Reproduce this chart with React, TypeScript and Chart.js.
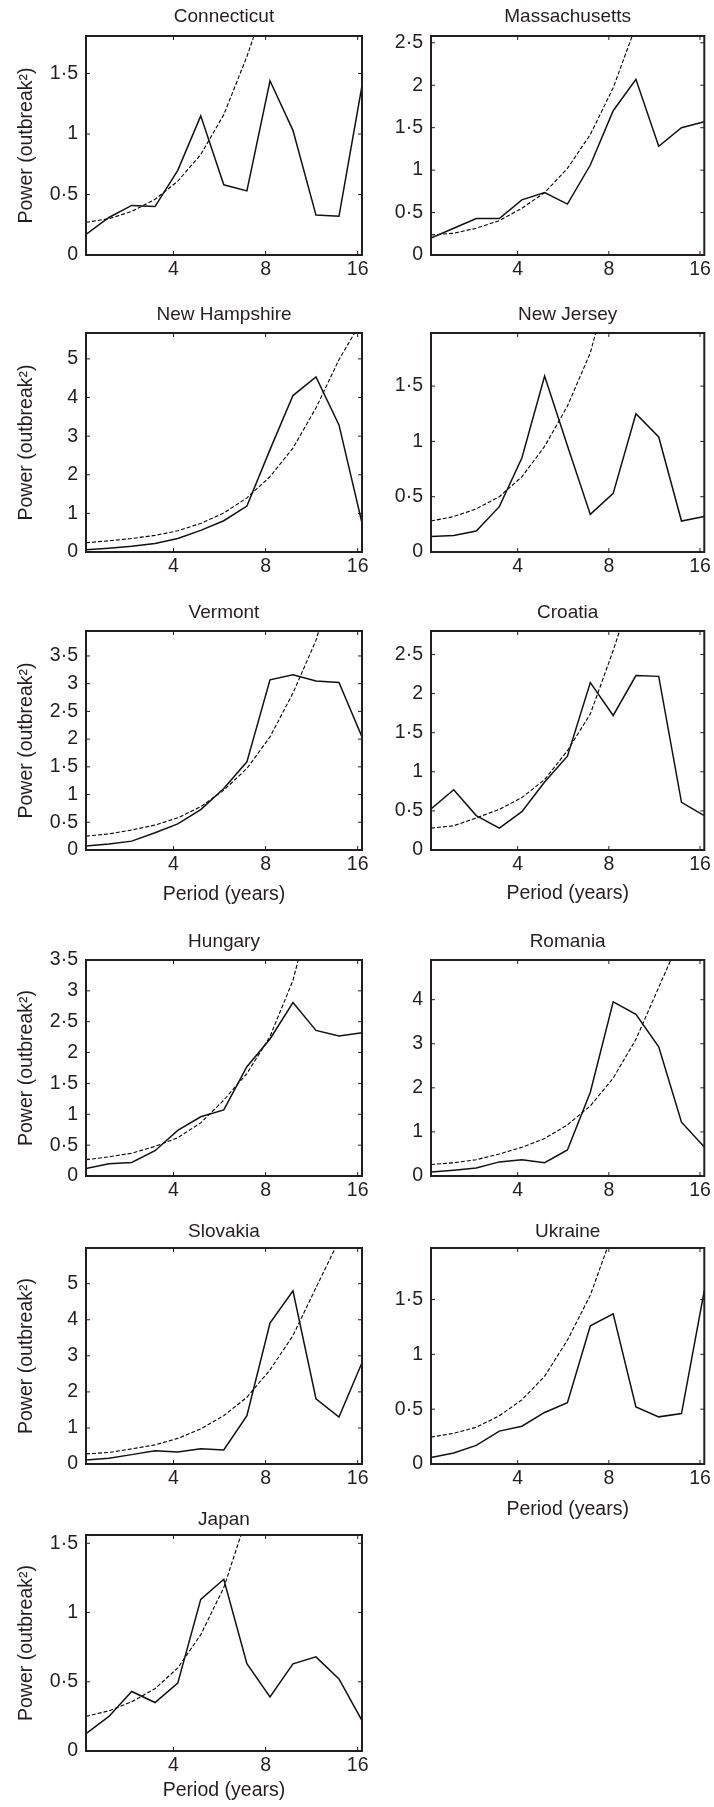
import React, { useEffect, useRef } from 'react';
import { Chart, registerables } from 'chart.js';

Chart.register(...registerables);

// ---------- data ----------
// Period (years) of each spectrum point
const periods = [2.07, 2.46, 2.92, 3.48, 4.13, 4.91, 5.84, 6.95, 8.27, 9.83, 11.69, 13.9, 16.53];
const xTickValues = [4, 8, 16];

const connecticutPower = [0.17, 0.31, 0.41, 0.4, 0.7, 1.15, 0.58, 0.53, 1.44, 1.03, 0.33, 0.32, 1.4];
const connecticutBackground = [0.27, 0.3, 0.36, 0.46, 0.61, 0.83, 1.16, 1.64, 2.2, 3.1, 4.3, 6.0, 8.4];
const connecticutTicks = [0, 0.5, 1, 1.5];

const massachusettsPower = [0.2, 0.315, 0.43, 0.43, 0.65, 0.735, 0.6, 1.06, 1.7, 2.07, 1.28, 1.5, 1.57];
const massachusettsBackground = [0.236, 0.256, 0.315, 0.405, 0.55, 0.735, 1.02, 1.42, 1.97, 2.7, 3.7, 5.1, 7.0];
const massachusettsTicks = [0, 0.5, 1, 1.5, 2, 2.5];

const newHampshirePower = [0.06, 0.1, 0.15, 0.22, 0.35, 0.56, 0.81, 1.19, 2.65, 4.05, 4.53, 3.29, 0.75];
const newHampshireBackground = [0.24, 0.29, 0.35, 0.43, 0.55, 0.74, 1.01, 1.4, 1.95, 2.69, 3.73, 4.98, 6.0];
const newHampshireTicks = [0, 1, 2, 3, 4, 5];

const newJerseyPower = [0.14, 0.15, 0.19, 0.41, 0.85, 1.59, 0.96, 0.34, 0.53, 1.25, 1.04, 0.28, 0.32];
const newJerseyBackground = [0.28, 0.32, 0.39, 0.5, 0.68, 0.955, 1.32, 1.8, 2.58, 3.6, 5.0, 7.0, 9.7];
const newJerseyTicks = [0, 0.5, 1, 1.5];

const vermontPower = [0.07, 0.11, 0.16, 0.31, 0.47, 0.73, 1.11, 1.59, 3.07, 3.16, 3.05, 3.02, 2.04];
const vermontBackground = [0.25, 0.29, 0.36, 0.45, 0.58, 0.78, 1.08, 1.47, 2.04, 2.83, 3.78, 5.2, 7.2];
const vermontTicks = [0, 0.5, 1, 1.5, 2, 2.5, 3, 3.5];

const croatiaPower = [0.525, 0.77, 0.44, 0.28, 0.49, 0.87, 1.2, 2.14, 1.72, 2.23, 2.22, 0.61, 0.44];
const croatiaBackground = [0.28, 0.31, 0.41, 0.52, 0.67, 0.9, 1.27, 1.74, 2.55, 3.45, 4.7, 6.5, 9.0];
const croatiaTicks = [0, 0.5, 1, 1.5, 2, 2.5];

const hungaryPower = [0.12, 0.2, 0.22, 0.41, 0.74, 0.96, 1.07, 1.77, 2.22, 2.81, 2.36, 2.27, 2.32];
const hungaryBackground = [0.265, 0.31, 0.37, 0.48, 0.62, 0.86, 1.23, 1.66, 2.26, 3.17, 4.6, 6.3, 8.6];
const hungaryTicks = [0, 0.5, 1, 1.5, 2, 2.5, 3, 3.5];

const romaniaPower = [0.09, 0.13, 0.18, 0.32, 0.37, 0.3, 0.59, 1.9, 3.95, 3.67, 2.93, 1.22, 0.66];
const romaniaBackground = [0.26, 0.3, 0.37, 0.5, 0.65, 0.85, 1.16, 1.59, 2.22, 3.1, 4.28, 5.45, 7.4];
const romaniaTicks = [0, 1, 2, 3, 4];

const slovakiaPower = [0.11, 0.16, 0.26, 0.37, 0.33, 0.42, 0.39, 1.34, 3.91, 4.8, 1.81, 1.3, 2.81];
const slovakiaBackground = [0.28, 0.32, 0.42, 0.53, 0.71, 0.97, 1.34, 1.85, 2.61, 3.56, 4.89, 6.2, 8.5];
const slovakiaTicks = [0, 1, 2, 3, 4, 5];

const ukrainePower = [0.06, 0.1, 0.17, 0.3, 0.345, 0.47, 0.56, 1.26, 1.37, 0.52, 0.43, 0.46, 1.58];
const ukraineBackground = [0.245, 0.28, 0.335, 0.44, 0.585, 0.8, 1.13, 1.54, 2.12, 2.9, 4.0, 5.5, 7.6];
const ukraineTicks = [0, 0.5, 1, 1.5];

const japanPower = [0.125, 0.25, 0.43, 0.35, 0.49, 1.095, 1.24, 0.63, 0.39, 0.63, 0.68, 0.52, 0.22];
const japanBackground = [0.25, 0.29, 0.355, 0.45, 0.6, 0.84, 1.18, 1.69, 2.3, 3.2, 4.4, 6.1, 8.4];
const japanTicks = [0, 0.5, 1, 1.5];

const yAxisTitle = 'Power (outbreak\u00B2)';
const xAxisTitle = 'Period (years)';

// ---------- layout ----------
const FONT = '"Liberation Sans", Arial, Helvetica, sans-serif';
const INK = '#231f20';
const TITLE_FS = 19;
const TITLE_LH = TITLE_FS * 1.2;
const FS = 19.5;
const LH = FS * 1.2;

const COLS = [
  { plotLeft: 86, plotRight: 362, yAxisW: 86, rightPad: 12 },
  { plotLeft: 431, plotRight: 708, yAxisW: 50, rightPad: 6 },
];
const ROWS = [
  { top: 36, bottom: 255, gap: 20 },
  { top: 333, bottom: 552, gap: 19 },
  { top: 631, bottom: 850, gap: 19 },
  { top: 960, bottom: 1176, gap: 19 },
  { top: 1248, bottom: 1464, gap: 16.5 },
  { top: 1535, bottom: 1751, gap: 16 },
];

type PanelSpec = {
  name: string; power: number[]; background: number[]; ticks: number[]; yMax: number;
  row: number; col: number; yTitle: boolean; xTitleY?: number;
};

const PANELS: PanelSpec[] = [
  { name: 'Connecticut', power: connecticutPower, background: connecticutBackground, ticks: connecticutTicks, yMax: 1.81, row: 0, col: 0, yTitle: true },
  { name: 'Massachusetts', power: massachusettsPower, background: massachusettsBackground, ticks: massachusettsTicks, yMax: 2.58, row: 0, col: 1, yTitle: false },
  { name: 'New Hampshire', power: newHampshirePower, background: newHampshireBackground, ticks: newHampshireTicks, yMax: 5.67, row: 1, col: 0, yTitle: true },
  { name: 'New Jersey', power: newJerseyPower, background: newJerseyBackground, ticks: newJerseyTicks, yMax: 1.98, row: 1, col: 1, yTitle: false },
  { name: 'Vermont', power: vermontPower, background: vermontBackground, ticks: vermontTicks, yMax: 3.95, row: 2, col: 0, yTitle: true, xTitleY: 895 },
  { name: 'Croatia', power: croatiaPower, background: croatiaBackground, ticks: croatiaTicks, yMax: 2.8, row: 2, col: 1, yTitle: false, xTitleY: 894 },
  { name: 'Hungary', power: hungaryPower, background: hungaryBackground, ticks: hungaryTicks, yMax: 3.5, row: 3, col: 0, yTitle: true },
  { name: 'Romania', power: romaniaPower, background: romaniaBackground, ticks: romaniaTicks, yMax: 4.9, row: 3, col: 1, yTitle: false },
  { name: 'Slovakia', power: slovakiaPower, background: slovakiaBackground, ticks: slovakiaTicks, yMax: 5.99, row: 4, col: 0, yTitle: true },
  { name: 'Ukraine', power: ukrainePower, background: ukraineBackground, ticks: ukraineTicks, yMax: 1.97, row: 4, col: 1, yTitle: false, xTitleY: 1510 },
  { name: 'Japan', power: japanPower, background: japanBackground, ticks: japanTicks, yMax: 1.56, row: 5, col: 0, yTitle: true, xTitleY: 1791 },
];

const fmt = (v: number) => String(v).replace('.', '\u00B7');

const framePlugin = {
  id: 'frameTicks',
  afterDatasetsDraw(chart: any) {
    const { ctx, chartArea, scales } = chart;
    const { left, top, right, bottom } = chartArea;
    const x = scales.x;
    const y = scales.y;
    const tl = 4;
    ctx.save();
    ctx.strokeStyle = INK;
    ctx.lineWidth = 1;
    ctx.beginPath();
    x.ticks.forEach((t: any) => {
      const px = x.getPixelForValue(t.value);
      ctx.moveTo(px, bottom); ctx.lineTo(px, bottom - tl);
      ctx.moveTo(px, top); ctx.lineTo(px, top + tl);
    });
    y.ticks.forEach((t: any) => {
      const py = y.getPixelForValue(t.value);
      ctx.moveTo(left, py); ctx.lineTo(left + tl, py);
      ctx.moveTo(right, py); ctx.lineTo(right - tl, py);
    });
    ctx.stroke();
    ctx.lineWidth = 2;
    ctx.strokeRect(left, top, right - left, bottom - top);
    ctx.restore();
  },
};

function Panel({ p }: { p: PanelSpec }) {
  const ref = useRef<HTMLCanvasElement | null>(null);
  const col = COLS[p.col];
  const row = ROWS[p.row];
  const titlePadTop = 2;
  const canvasTop = Math.round(row.top - (titlePadTop + TITLE_LH + row.gap - TITLE_LH / 2));
  const titleH = row.top - canvasTop;
  const titlePadBottom = titleH - titlePadTop - TITLE_LH;
  const xAxisH = p.xTitleY ? 60 : 30;
  const canvasLeft = col.plotLeft - col.yAxisW;
  const width = col.plotRight + col.rightPad - canvasLeft;
  const height = row.bottom + xAxisH - canvasTop;
  const xTitlePadBottom = p.xTitleY ? row.bottom + xAxisH - p.xTitleY - LH / 2 : 0;

  useEffect(() => {
    if (!ref.current) return;
    const chart = new Chart(ref.current, {
      type: 'line',
      data: {
        datasets: [
          {
            data: periods.map((x, i) => ({ x, y: p.power[i] })),
            borderColor: '#111',
            borderWidth: 1.5,
            pointRadius: 0,
            tension: 0,
            fill: false,
          },
          {
            data: periods.map((x, i) => ({ x, y: p.background[i] })),
            borderColor: '#000',
            borderWidth: 1.1,
            borderDash: [4, 2],
            pointRadius: 0,
            tension: 0,
            fill: false,
          },
        ],
      },
      options: {
        animation: false,
        responsive: false,
        devicePixelRatio: 1,
        events: [],
        layout: { autoPadding: false, padding: { left: 0, top: 0, bottom: 0, right: col.rightPad } } as any,
        plugins: {
          legend: { display: false },
          tooltip: { enabled: false },
          title: {
            display: true,
            text: p.name,
            fullSize: false,
            color: INK,
            font: { family: FONT, size: TITLE_FS, weight: 'normal', lineHeight: 1.2 },
            padding: { top: titlePadTop, bottom: titlePadBottom },
          },
        },
        scales: {
          x: {
            type: 'logarithmic',
            min: periods[0],
            max: periods[periods.length - 1],
            grid: { display: false, drawTicks: false },
            border: { display: false },
            afterBuildTicks: (s: any) => { s.ticks = xTickValues.map((v) => ({ value: v })); },
            afterFit: (s: any) => { s.height = xAxisH; },
            ticks: {
              autoSkip: false,
              maxRotation: 0,
              padding: 3,
              color: INK,
              font: { family: FONT, size: FS, lineHeight: 1.2 },
              callback: (v: any) => String(v),
            },
            title: {
              display: !!p.xTitleY,
              text: xAxisTitle,
              color: INK,
              font: { family: FONT, size: FS, lineHeight: 1.2 },
              padding: { top: 0, bottom: xTitlePadBottom },
            },
          },
          y: {
            type: 'linear',
            min: 0,
            max: p.yMax,
            grid: { display: false, drawTicks: false },
            border: { display: false },
            afterBuildTicks: (s: any) => { s.ticks = p.ticks.map((v) => ({ value: v })); },
            afterFit: (s: any) => { s.width = col.yAxisW; },
            ticks: {
              autoSkip: false,
              padding: 8,
              color: INK,
              font: { family: FONT, size: FS, lineHeight: 1.2 },
              callback: (v: any) => fmt(v),
            },
            title: {
              display: p.yTitle,
              text: yAxisTitle,
              color: INK,
              font: { family: FONT, size: FS, lineHeight: 1.2 },
              padding: { top: 27 - LH / 2, bottom: 0 },
            },
          },
        },
      } as any,
      plugins: [framePlugin],
    });
    return () => chart.destroy();
  }, []);

  return (
    <canvas
      ref={ref}
      width={width}
      height={height}
      style={{ position: 'absolute', left: canvasLeft, top: canvasTop, width, height }}
    />
  );
}

export default function App() {
  return (
    <div
      style={{
        position: 'absolute',
        left: 0,
        top: 0,
        width: 714,
        height: 1807,
        overflow: 'hidden',
        background: '#fff',
      }}
    >
      {PANELS.map((p) => (
        <Panel key={p.name} p={p} />
      ))}
    </div>
  );
}
